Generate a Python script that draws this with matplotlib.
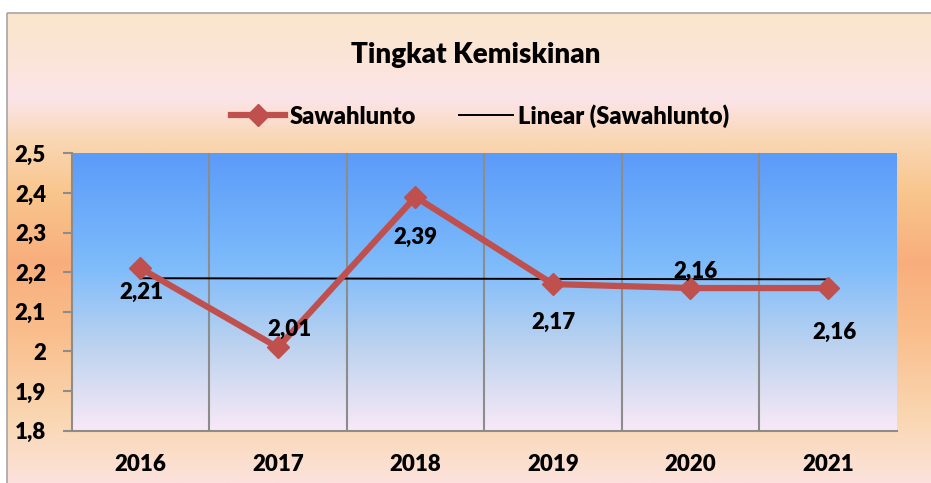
#!/usr/bin/env python3
"""Tingkat Kemiskinan Sawahlunto 2016-2021, garis + tren linear."""

import numpy as np
import matplotlib
matplotlib.use("Agg")
import matplotlib.pyplot as plt
from matplotlib.colors import to_rgb
from matplotlib.lines import Line2D
from matplotlib.patches import Rectangle

plt.rcParams["font.family"] = ["Lato", "DejaVu Sans"]
WEIGHT = "heavy"

# Données
years = ["2016", "2017", "2018", "2019", "2020", "2021"]
values = [2.21, 2.01, 2.39, 2.17, 2.16, 2.16]
yticks = [1.8, 1.9, 2.0, 2.1, 2.2, 2.3, 2.4, 2.5]
ytick_labels = ["1,8", "1,9", "2", "2,1", "2,2", "2,3", "2,4", "2,5"]
# décalage (pixels) de chaque étiquette par rapport au point
label_offsets = [(1, -24), (12, 18), (0, -41), (0, -38), (5, 17), (7, -44)]

W, H = 931, 483
RED = "#C0504D"
FS = 16


def vertical_gradient(stops, n=400):
    """Image (n x 1 x 3) d'un dégradé vertical à partir de (pos, couleur)."""
    pos = np.linspace(0, 1, n)
    cols = np.array([to_rgb(c) for _, c in stops])
    ps = [p for p, _ in stops]
    img = np.stack([np.interp(pos, ps, cols[:, k]) for k in range(3)], axis=-1)
    return img[:, None, :]


fig = plt.figure(figsize=(W / 100, H / 100), dpi=100, facecolor="white")

# Fond du cadre (dégradé pêche / orange)
bg = fig.add_axes([0, 0, 1, 1], zorder=0)
bg.set_xlim(0, W)
bg.set_ylim(H, 0)
bg.axis("off")
outer = vertical_gradient([
    (0.00, "#FAE6CC"),
    (0.10, "#FBE4D8"),
    (0.18, "#FCE5EA"),
    (0.27, "#F9D7B4"),
    (0.38, "#F9C68E"),
    (0.53, "#F8AE7C"),
    (0.68, "#F9BE8C"),
    (0.87, "#FAD8B4"),
    (1.00, "#FCE2DC"),
])
bg.imshow(outer, extent=(7, W, H, 13), aspect="auto", interpolation="bilinear")
bg.add_patch(Rectangle((7, 13), W, H, fill=False, edgecolor="#A6A6A6", lw=1.2))

# Zone de tracé
ax = fig.add_axes([71.7 / W, 1 - 430.7 / H, (896.7 - 71.7) / W, (430.7 - 153.3) / H], zorder=1)
inner = vertical_gradient([
    (0.00, "#5B9BF9"),
    (0.40, "#7DBBFB"),
    (0.70, "#BDD3EF"),
    (1.00, "#F9E9F7"),
])
ax.imshow(inner, extent=(0, 1, 0, 1), transform=ax.transAxes, aspect="auto",
          interpolation="bilinear", zorder=0)

x = np.arange(len(years))
ax.set_xlim(-0.5, len(years) - 0.5)
ax.set_ylim(1.8, 2.5)

for gx in x[:-1] + 0.5:
    ax.axvline(gx, color="#8C8C8C", lw=1.5, zorder=1)

# Tendance linéaire
a, b = np.polyfit(x, values, 1)
ax.plot(x, a * x + b, color="black", lw=1.4, zorder=2)

ax.plot(x, values, color=RED, lw=4.5, marker="D", ms=11, zorder=3)

for xi, v, (dx, dy) in zip(x, values, label_offsets):
    ax.annotate(f"{v:.2f}".replace(".", ","), (xi, v), xytext=(dx, dy),
                textcoords="offset pixels", ha="center", va="center",
                fontsize=FS, fontweight=WEIGHT, zorder=4)

ax.set_xticks(x)
ax.set_xticklabels(years, fontsize=FS, fontweight=WEIGHT)
ax.set_yticks(yticks)
ax.set_yticklabels(ytick_labels, fontsize=FS, fontweight=WEIGHT)
ax.tick_params(axis="x", length=0, pad=17)
ax.tick_params(axis="y", length=6.5, width=1.5, color="#8C8C8C", pad=12)
for side in ("top", "right"):
    ax.spines[side].set_visible(False)
for side in ("left", "bottom"):
    ax.spines[side].set_color("#8C8C8C")
    ax.spines[side].set_linewidth(1.5)

fig.text(476 / W, 1 - 55 / H, "Tingkat Kemiskinan", ha="center", va="center",
         fontsize=20, fontweight=WEIGHT)

handles = [
    Line2D([], [], color=RED, lw=4.5, marker="D", ms=11),
    Line2D([], [], color="black", lw=1.4),
]
fig.legend(handles, ["Sawahlunto", "Linear (Sawahlunto)"], loc="center",
           bbox_to_anchor=(480 / W, 1 - 116 / H), ncol=2, frameon=False,
           prop={"size": 17, "weight": WEIGHT},
           handlelength=2.3, handletextpad=0.2, columnspacing=1.8)

fig.savefig("out.png", dpi=100)
